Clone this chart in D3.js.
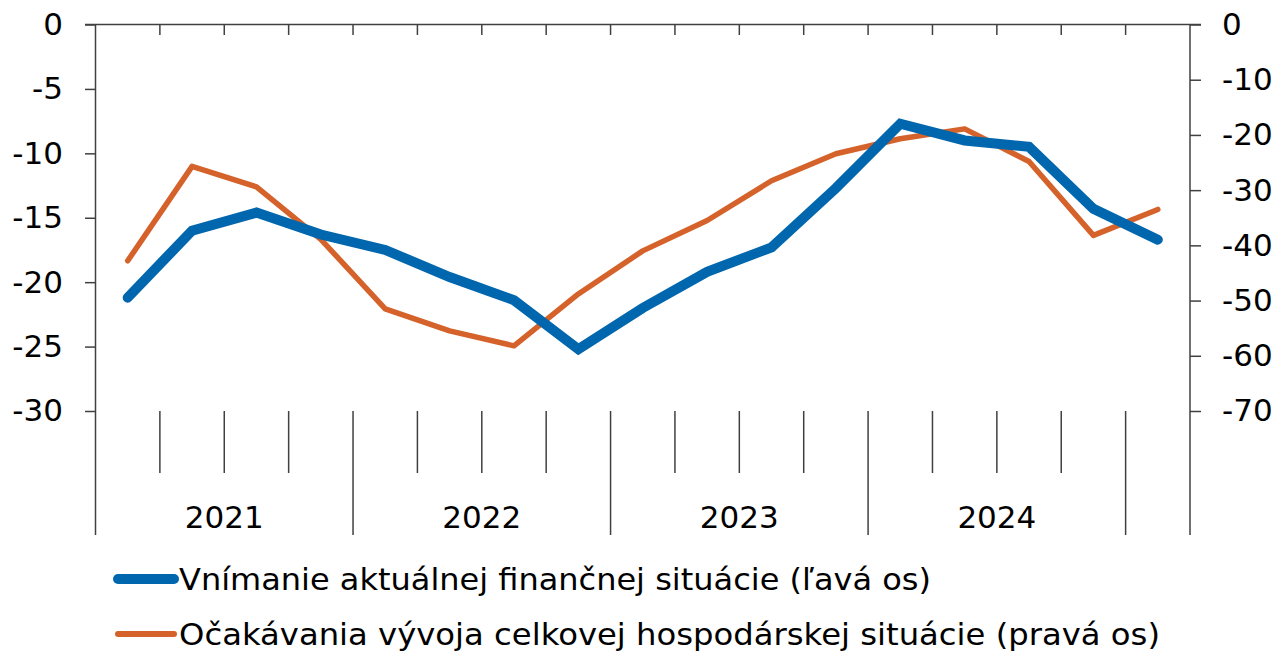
<!DOCTYPE html>
<html>
<meta charset="utf-8">
<script src="https://cdn.jsdelivr.net/npm/d3@7"></script>
<style>
body{ margin:0; background:#fff; }
svg text{ font-family: "DejaVu Sans", Verdana, sans-serif; fill:#000; }
</style>
<body>
<svg id="chart" width="1281" height="652"></svg>
<script>
// quarters 2021Q1 .. 2025Q1
const quarters = ["2021Q1","2021Q2","2021Q3","2021Q4","2022Q1","2022Q2","2022Q3","2022Q4",
	"2023Q1","2023Q2","2023Q3","2023Q4","2024Q1","2024Q2","2024Q3","2024Q4","2025Q1"];
const years = ["2021","2022","2023","2024"];

// Vnímanie aktuálnej finančnej situácie (ľavá os)
const perception = [-21.2, -16.0, -14.6, -16.3, -17.5, -19.6, -21.4, -25.2, -22.0,
	-19.2, -17.3, -12.7, -7.7, -9.0, -9.5, -14.3, -16.7];
// Očakávania vývoja celkovej hospodárskej situácie (pravá os)
const expectations = [-42.8, -25.7, -29.4, -38.9, -51.5, -55.5, -58.2, -48.8, -41.0,
	-35.5, -28.3, -23.4, -20.7, -18.9, -24.8, -38.2, -33.5];

const leftTicks = [0, -5, -10, -15, -20, -25, -30];
const rightTicks = [0, -10, -20, -30, -40, -50, -60, -70];

const legendLabels = ["Vnímanie aktuálnej finančnej situácie (ľavá os)",
	"Očakávania vývoja celkovej hospodárskej situácie (pravá os)"];

const svg = d3.select("#chart");
const axisColor = "#404040";
const blue = "#0066ad", orange = "#d4622a";

const plotL = 95.5, plotR = 1190, plotT = 24.5, plotB = 411, floorY = 535;

const x = d3.scaleBand().domain(quarters).range([plotL, plotR]);
const yL = d3.scaleLinear().domain([-30, 0]).range([plotB, plotT]);
const yR = d3.scaleLinear().domain([-70, 0]).range([plotB, plotT]);

// plain hyphen instead of unicode minus
const fmt = d => String(d);

// left axis
const gL = svg.append("g")
	.attr("transform", "translate(" + plotL + ",0)")
	.call(d3.axisLeft(yL).tickValues(leftTicks).tickFormat(fmt).tickSize(10.5).tickSizeOuter(0).tickPadding(22));
gL.select(".domain").remove();
gL.selectAll("line").attr("stroke", axisColor).attr("stroke-width", 1.5);
gL.selectAll("text").attr("font-size", 31).attr("font-family", "DejaVu Sans");

// right axis
const gR = svg.append("g")
	.attr("transform", "translate(" + plotR + ",0)")
	.call(d3.axisRight(yR).tickValues(rightTicks).tickFormat(fmt).tickSize(11).tickSizeOuter(0).tickPadding(21));
gR.select(".domain").remove();
gR.selectAll("line").attr("stroke", axisColor).attr("stroke-width", 1.5);
gR.selectAll("text").attr("font-size", 31).attr("font-family", "DejaVu Sans");

// top line at zero
svg.append("line")
	.attr("x1", plotL - 10.5).attr("x2", plotR + 11)
	.attr("y1", yL(0)).attr("y2", yL(0))
	.attr("stroke", axisColor).attr("stroke-width", 1.5);

// vertical axis lines
[plotL, plotR].forEach(function(px){
	svg.append("line")
		.attr("x1", px).attr("x2", px).attr("y1", plotT).attr("y2", floorY)
		.attr("stroke", axisColor).attr("stroke-width", 1.5);
});

// quarter boundaries
const inner = quarters.slice(1);
svg.append("g").selectAll("line")
	.data(inner).join("line")
	.attr("x1", d => x(d)).attr("x2", d => x(d))
	.attr("y1", plotT).attr("y2", plotT + 10.5)
	.attr("stroke", axisColor).attr("stroke-width", 1.5);

svg.append("g").selectAll("line")
	.data(inner).join("line")
	.attr("x1", d => x(d)).attr("x2", d => x(d))
	.attr("y1", plotB).attr("y2", d => d.endsWith("Q1") ? floorY : 473)
	.attr("stroke", axisColor).attr("stroke-width", 1.5);

// year labels
svg.append("g").selectAll("text")
	.data(years).join("text")
	.attr("x", d => (x(d + "Q1") + x(d + "Q4") + x.bandwidth()) / 2)
	.attr("y", 528)
	.attr("text-anchor", "middle")
	.attr("font-size", 31)
	.text(d => d);

// lines
const cx = d => x(d) + x.bandwidth() / 2;

svg.append("path")
	.datum(quarters)
	.attr("fill", "none")
	.attr("stroke", orange)
	.attr("stroke-width", 5.5)
	.attr("stroke-linejoin", "round")
	.attr("stroke-linecap", "round")
	.attr("d", d3.line().x(cx).y((d, i) => yR(expectations[i])));

svg.append("path")
	.datum(quarters)
	.attr("fill", "none")
	.attr("stroke", blue)
	.attr("stroke-width", 10)
	.attr("stroke-linejoin", "miter")
	.attr("stroke-linecap", "round")
	.attr("d", d3.line().x(cx).y((d, i) => yL(perception[i])));

// legend
const legend = [
	{label: legendLabels[0], color: blue, w: 10, y: 579, len: 752},
	{label: legendLabels[1], color: orange, w: 6, y: 634, len: 981}
];
const lg = svg.append("g").selectAll("g").data(legend).join("g");
lg.append("line")
	.attr("x1", 118).attr("x2", 174)
	.attr("y1", d => d.y).attr("y2", d => d.y)
	.attr("stroke", d => d.color)
	.attr("stroke-width", d => d.w)
	.attr("stroke-linecap", "round");
lg.append("text")
	.attr("x", 179)
	.attr("y", d => d.y + 11)
	.attr("font-size", 30)
	.attr("textLength", d => d.len)
	.attr("lengthAdjust", "spacingAndGlyphs")
	.text(d => d.label);
</script>
</body>
</html>
